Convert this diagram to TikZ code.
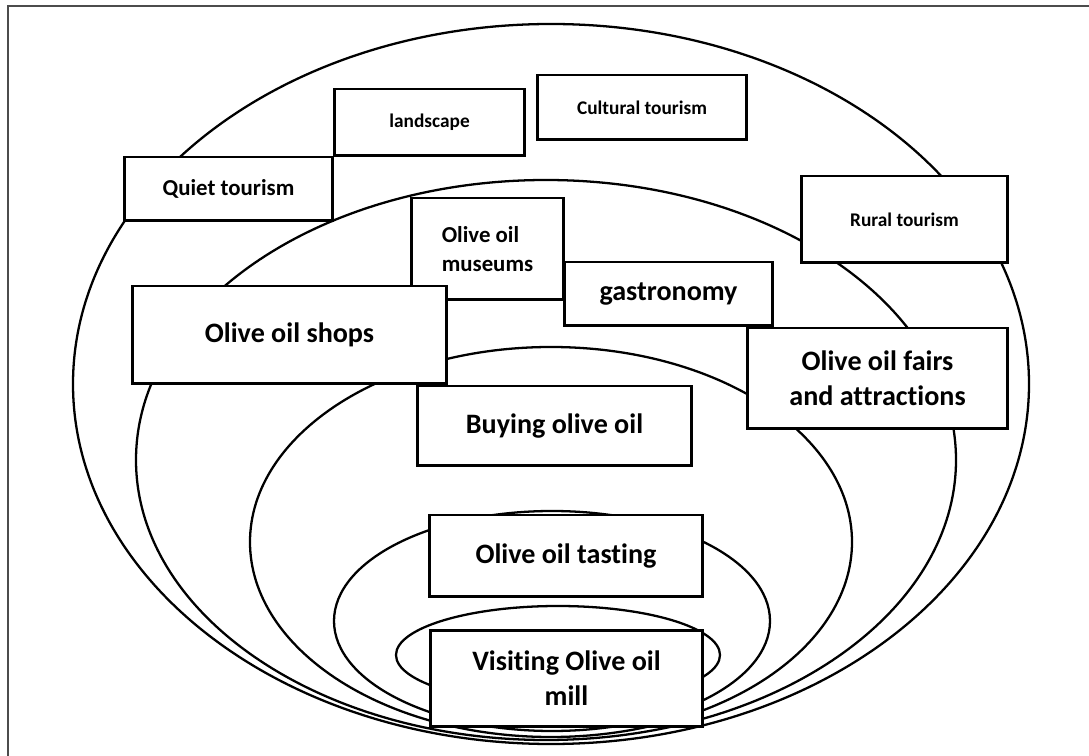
\documentclass[tikz,border=0pt]{standalone}
\usepackage{fontspec}
\setmainfont{Carlito}[Ligatures=CommonOff]

\begin{document}
\begin{tikzpicture}[x=0.02cm, y=-0.02cm,
      ring/.style={line width=1.3pt},
      box/.style={draw, fill=white, line width=1.7pt, inner sep=0pt, align=center},
      sm/.style={font=\fontsize{11}{13}\selectfont\bfseries},
      md/.style={font=\fontsize{13}{16.5}\selectfont\bfseries},
      lg/.style={font=\fontsize{16}{20}\selectfont\bfseries}]
    \useasboundingbox (0,0) rectangle (1089,756);
    % frame (left and top only)
    \draw[line width=0.9pt, black!70] (8,756) -- (8,6) -- (1089,6);
    % nested rings, outside in
    \draw[ring] (551,384) ellipse [x radius=478, y radius=360];
    \draw[ring] (546,460) ellipse [x radius=410, y radius=280];
    \draw[ring] (551,542) ellipse [x radius=301, y radius=195];
    \draw[ring] (552,621) ellipse [x radius=218, y radius=110];
    \draw[ring] (558,655) ellipse [x radius=162, y radius=49];
    % outer ring
    \node[box, sm, minimum width=3.82cm, minimum height=1.34cm] (landscape) at (429.5,122.5) {landscape};
    \node[box, md, minimum width=4.18cm, minimum height=1.28cm] (quiet) at (228.5,189) {Quiet tourism};
    \node[box, sm, minimum width=4.20cm, minimum height=1.30cm] (cultural) at (642,107.5) {Cultural tourism};
    \node[box, sm, minimum width=4.14cm, minimum height=1.74cm] (rural) at (904.5,219.5) {Rural tourism};
    % second ring
    \node[box, md, align=left, minimum width=3.06cm, minimum height=2.04cm] (museums) at (487.5,249) {Olive oil\\museums};
    \node[box, lg, minimum width=4.18cm, minimum height=1.28cm] (gastro) at (668.5,294) {gastronomy};
    \node[box, lg, minimum width=6.30cm, minimum height=1.96cm] (shops) at (289.5,335) {Olive oil shops};
    \node[box, lg, minimum width=5.22cm, minimum height=2.02cm] (fairs) at (877.5,378.5) {Olive oil fairs\\and attractions};
    % inner rings
    \node[box, lg, minimum width=5.50cm, minimum height=1.60cm] (buying) at (554.5,426) {Buying olive oil};
    \node[box, lg, minimum width=5.48cm, minimum height=1.64cm] (tasting) at (566,556) {Olive oil tasting};
    \node[box, lg, minimum width=5.46cm, minimum height=1.94cm] (mill) at (566.5,678.5) {Visiting Olive oil\\mill};
\end{tikzpicture}
\end{document}
